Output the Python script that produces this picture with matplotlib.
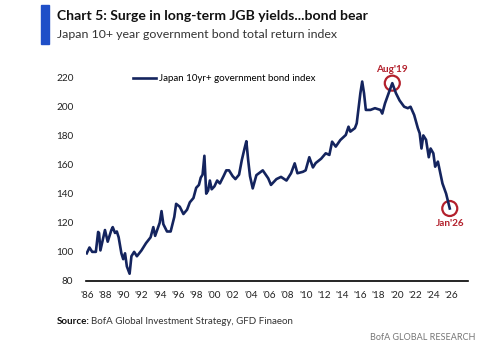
import matplotlib
matplotlib.use("Agg")
import matplotlib.pyplot as plt
from matplotlib.patches import Ellipse, Rectangle

# (year fraction, index level)
years = [1986.0, 1986.3, 1986.6, 1987.0, 1987.25, 1987.35, 1987.5, 1988.0, 1988.3, 1988.7,
         1988.85, 1989.1, 1989.3, 1989.5, 1989.8, 1990.0, 1990.2, 1990.4, 1990.7, 1990.9,
         1991.2, 1991.5, 1992.0, 1992.5, 1993.0, 1993.3, 1993.5, 1994.0, 1994.2, 1994.4,
         1994.8, 1995.2, 1995.6, 1995.8, 1996.2, 1996.6, 1997.0, 1997.3, 1997.7, 1998.0,
         1998.3, 1998.5, 1998.7, 1998.9, 1999.1, 1999.3, 1999.5, 1999.7, 2000.0, 2000.3,
         2000.6, 2001.0, 2001.3, 2001.6, 2002.0, 2002.3, 2002.7, 2003.0, 2003.3, 2003.5,
         2003.7, 2003.9, 2004.2, 2004.6, 2005.3, 2005.9, 2006.2, 2006.8, 2007.3, 2007.9,
         2008.4, 2008.8, 2009.1, 2009.7, 2010.0, 2010.4, 2010.8, 2011.1, 2011.7, 2012.2,
         2012.6, 2012.9, 2013.3, 2013.8, 2014.4, 2014.7, 2014.9, 2015.4, 2015.6, 2016.0,
         2016.2, 2016.4, 2016.6, 2017.1, 2017.6, 2018.2, 2018.4, 2018.7, 2019.1, 2019.5,
         2019.9, 2020.3, 2020.8, 2021.2, 2021.5, 2021.9, 2022.3, 2022.5, 2022.7, 2022.9,
         2023.2, 2023.5, 2023.7, 2024.0, 2024.2, 2024.5, 2024.7, 2025.0, 2025.4, 2025.8]
index = [99, 103, 100, 100, 113.7, 113, 101, 115, 107, 115,
         117, 113, 114, 110, 99, 95, 99, 90, 85, 97,
         100, 97, 101, 106, 110, 117, 111, 120, 128, 119,
         114, 114, 124, 133, 131, 126, 129, 134, 137, 144,
         146, 151, 153, 166, 140, 142, 149, 143, 145, 149,
         147, 152, 156, 156, 152, 150, 153, 163, 171, 176,
         163, 152, 143.6, 152.7, 156, 150.5, 146, 150, 151.5, 149,
         154, 160.8, 154, 155, 156, 165, 158, 161, 164, 167.7,
         166.6, 175.7, 172.3, 176.8, 180.3, 186, 182.6, 185, 188.3, 209,
         217, 209, 197.5, 197.5, 198.7, 197.5, 195, 202, 209, 215.9,
         209, 204, 199.7, 198.7, 199.7, 194, 185, 181.5, 171, 180,
         177, 165, 171, 167.7, 158.5, 162, 156, 147, 140, 129.8]

xticks = list(range(1986, 2027, 2))
xticklabels = ["'%02d" % (y % 100) for y in xticks]
yticks = [80, 100, 120, 140, 160, 180, 200, 220]

peak = (2019.5, 215.9, "Aug'19")
last = (2025.8, 129.8, "Jan'26")

navy = "#14245e"
red = "#b3202c"
font = ["Lato", "DejaVu Sans"]
plt.rcParams["font.family"] = font

fig = plt.figure(figsize=(5, 3.53), dpi=100)
ax = fig.add_axes([0.172, 0.204, 0.764, 0.598])

ax.plot(years, index, color=navy, lw=1.9, label="Japan 10yr+ government bond index")
ax.set_xlim(1985.92, 2027.8)
ax.set_ylim(80, 225)
ax.set_xticks(xticks)
ax.set_xticklabels(xticklabels)
ax.set_yticks(yticks)
ax.tick_params(length=0, labelsize=7.2, colors="#222222")
ax.tick_params(axis="y", pad=9)
ax.tick_params(axis="x", pad=7)
for s in ["top", "right", "left"]:
    ax.spines[s].set_visible(False)
ax.spines["bottom"].set_linewidth(1.2)

# circles around the two marked points, sized in pixels
x0, x1 = ax.get_xlim()
y0, y1 = ax.get_ylim()
bb = ax.get_position()
rx = 7.5 / (bb.width * 500) * (x1 - x0)
ry = 7.5 / (bb.height * 353) * (y1 - y0)
for px, py, txt in [peak, last]:
    ax.add_patch(Ellipse((px, py), 2 * rx, 2 * ry, fill=False, ec=red, lw=1.6, clip_on=False))
ax.text(peak[0], peak[1] + 6, peak[2], color=red, fontsize=7.2, fontweight="bold",
        ha="center", va="bottom")
ax.text(last[0], last[1] - 7.5, last[2], color=red, fontsize=7.2, fontweight="bold",
        ha="center", va="top")

ax.legend(loc="upper left", bbox_to_anchor=(0.1, 1.02), frameon=False, fontsize=7,
          handlelength=2.4, handletextpad=0.3)

fig.patches.append(Rectangle((41 / 500, 1 - 44 / 353), 8 / 500, 39 / 353,
                             transform=fig.transFigure, color="#1f4fc8", zorder=5))
fig.text(57 / 500, 1 - 16 / 353, "Chart 5: Surge in long-term JGB yields...bond bear",
         fontsize=10.1, fontweight="bold", color="#111111", va="center")
fig.text(57 / 500, 1 - 35 / 353, "Japan 10+ year government bond total return index",
         fontsize=8.9, color="#333333", va="center")
fig.text(57 / 500, 1 - 322 / 353, "Source:", fontsize=7.0, fontweight="bold",
         color="#111111", va="center")
fig.text(91 / 500, 1 - 322 / 353, "BofA Global Investment Strategy, GFD Finaeon",
         fontsize=7.0, color="#333333", va="center")
fig.text(475 / 500, 1 - 338 / 353, "BofA GLOBAL RESEARCH", fontsize=6.5,
         color="#777777", va="center", ha="right")

fig.savefig("out.png", dpi=100)
